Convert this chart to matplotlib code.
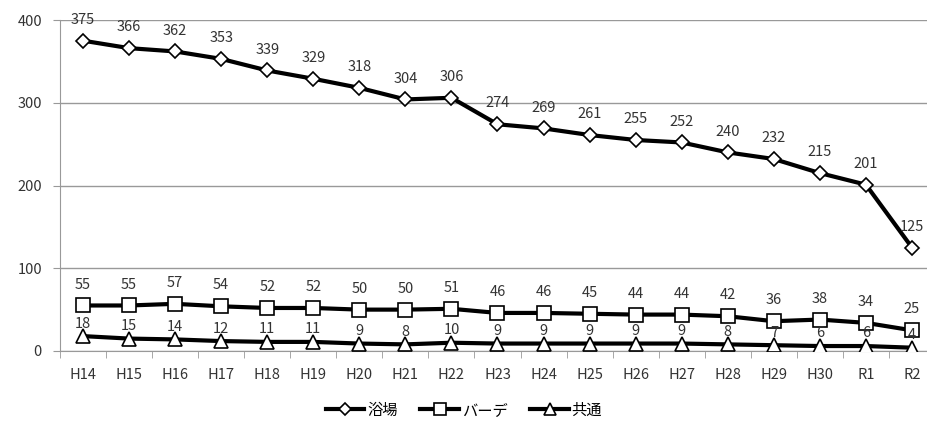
import matplotlib.pyplot as plt
import numpy as np

plt.rcParams['font.family'] = ['Noto Sans CJK JP', 'DejaVu Sans']

years = ['H14', 'H15', 'H16', 'H17', 'H18', 'H19', 'H20', 'H21', 'H22', 'H23',
         'H24', 'H25', 'H26', 'H27', 'H28', 'H29', 'H30', 'R1', 'R2']
yokujo = [375, 366, 362, 353, 339, 329, 318, 304, 306, 274,
          269, 261, 255, 252, 240, 232, 215, 201, 125]
bade = [55, 55, 57, 54, 52, 52, 50, 50, 51, 46,
        46, 45, 44, 44, 42, 36, 38, 34, 25]
kyotsu = [18, 15, 14, 12, 11, 11, 9, 8, 10, 9,
          9, 9, 9, 9, 8, 7, 6, 6, 4]

fig = plt.figure(figsize=(9.28, 4.21), dpi=100)
ax = fig.add_axes([60 / 928, 70 / 421, 875 / 928, 331 / 421])

x = np.arange(len(years))
# (values, marker, size, legend name, label offset in points)
series = [(yokujo, 'D', 7.5, '浴場', 10),
          (bade, 's', 10, 'バーデ', 10),
          (kyotsu, '^', 10, '共通', 4)]
for vals, mk, ms, name, off in series:
    ax.plot(x, vals, color='black', lw=3, marker=mk, markersize=ms,
            markerfacecolor='white', markeredgecolor='black', markeredgewidth=1.2,
            label=name, zorder=3)
    for xi, v in zip(x, vals):
        ax.annotate(str(v), (xi, v), xytext=(0, off), textcoords='offset points',
                    ha='center', va='bottom', fontsize=10.5, color='#333333')

ax.set_xlim(-0.5, len(years) - 0.5)
ax.set_ylim(0, 400)
ax.set_yticks([0, 100, 200, 300, 400])
ax.set_xticks(x)
ax.set_xticklabels(years)
ax.set_xticks(np.arange(-0.5, len(years), 1), minor=True)
ax.tick_params(axis='x', which='major', length=0, pad=12, labelsize=10.5, labelcolor='#333333')
ax.tick_params(axis='x', which='minor', length=5, color='#999999', direction='out')
ax.tick_params(axis='y', length=5, color='#999999', labelsize=10.5, labelcolor='#333333', pad=8)
ax.grid(axis='y', color='#999999', lw=1)
ax.set_axisbelow(True)
for s in ['top', 'right']:
    ax.spines[s].set_visible(False)
ax.spines['left'].set_color('#999999')
ax.spines['bottom'].set_color('#999999')

fig.legend(loc='center', bbox_to_anchor=(0.5, 0.026), ncol=3, frameon=False,
           fontsize=11, handlelength=2.5, columnspacing=1.5, handletextpad=0.2,
           markerscale=0.8)

fig.savefig('out.png', dpi=100)
